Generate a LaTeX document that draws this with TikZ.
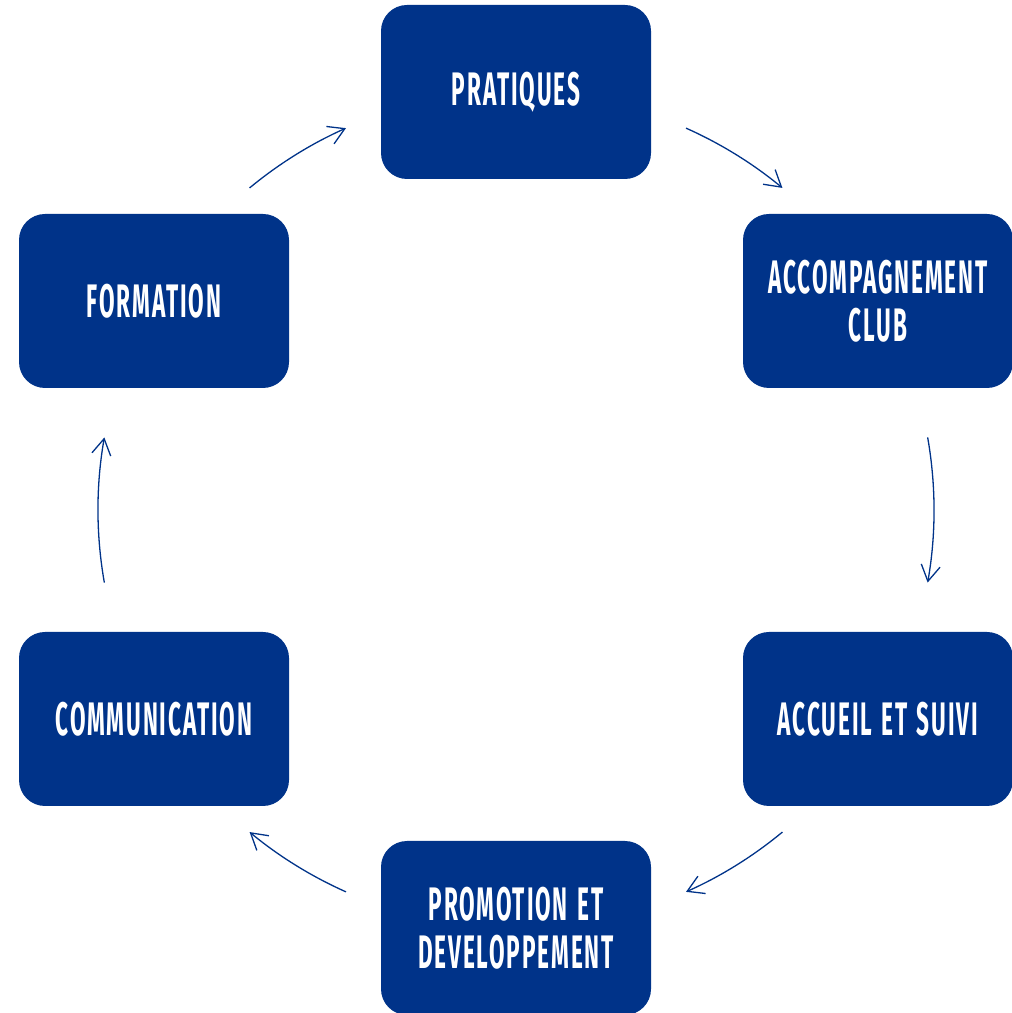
\documentclass[tikz,border=0pt]{standalone}
\usepackage{fontspec}
\newfontfamily\boxfont[FakeStretch=0.48,LetterSpace=4,WordSpace=1.3]{Fira Sans}
\usetikzlibrary{arrows.meta}
\definecolor{navy}{RGB}{0,51,137}
\tikzset{
  stage/.style={fill=navy, rounded corners=26pt, minimum width=270pt, minimum height=174pt,
    inner sep=0pt, text=white, align=center, font=\boxfont\bfseries\fontsize{47}{48}\selectfont},
  flow/.style={draw=navy, line width=1.3pt, -{Straight Barb[length=16pt,width=19pt]}}
}
\begin{document}
\begin{tikzpicture}[x=1pt,y=1pt]
\useasboundingbox (0,0) rectangle (1012,1013);
\coordinate (c) at (516,503);
\node[stage] (prat) at ([shift={(90:418pt)}]c) {PRATIQUES};
\node[stage] (acc)  at ([shift={(30:418pt)}]c) {ACCOMPAGNEMENT\\CLUB};
\node[stage] (accu) at ([shift={(-30:418pt)}]c) {ACCUEIL ET SUIVI};
\node[stage] (prom) at ([shift={(-90:418pt)}]c) {PROMOTION ET\\DEVELOPPEMENT};
\node[stage] (comm) at ([shift={(-150:418pt)}]c) {COMMUNICATION};
\node[stage] (form) at ([shift={(150:418pt)}]c) {FORMATION};
\draw[flow] ([shift={(66:418pt)}]c) arc[start angle=66, end angle=50.4, radius=418pt];
\draw[flow] ([shift={(10:418pt)}]c) arc[start angle=10, end angle=-10, radius=418pt];
\draw[flow] ([shift={(-50.4:418pt)}]c) arc[start angle=-50.4, end angle=-66, radius=418pt];
\draw[flow] ([shift={(-114:418pt)}]c) arc[start angle=-114, end angle=-129.6, radius=418pt];
\draw[flow] ([shift={(-170:418pt)}]c) arc[start angle=-170, end angle=-190, radius=418pt];
\draw[flow] ([shift={(129.6:418pt)}]c) arc[start angle=129.6, end angle=114, radius=418pt];
\end{tikzpicture}
\end{document}
